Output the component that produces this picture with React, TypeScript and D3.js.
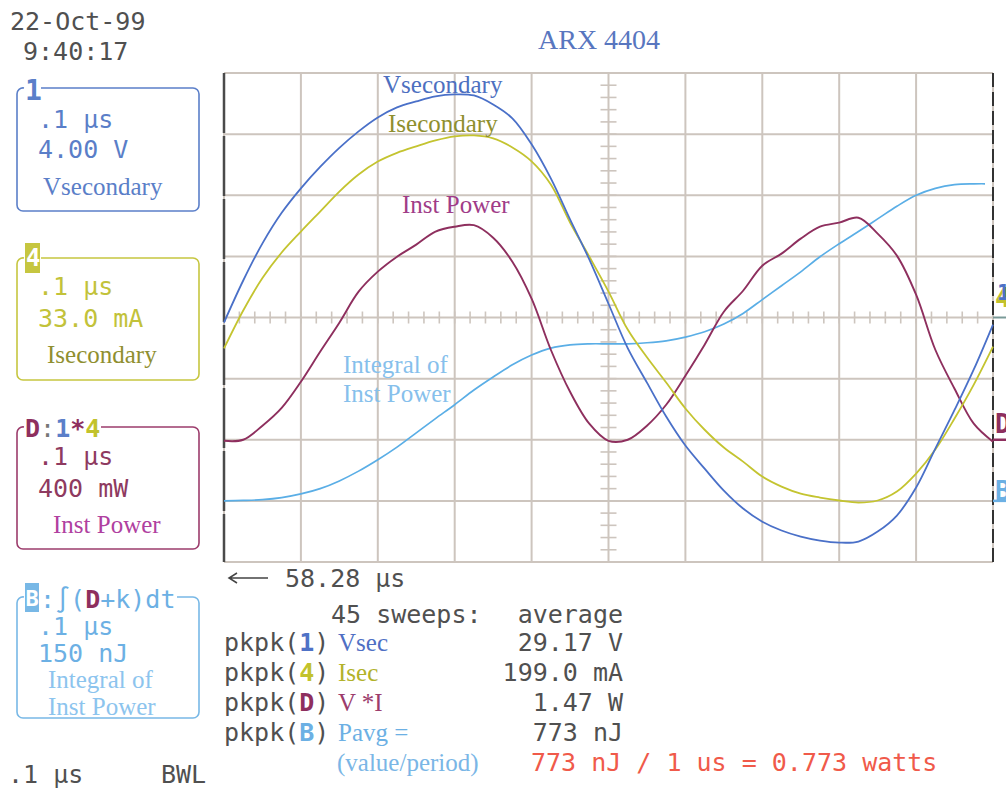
import React from "react";
import * as d3 from "d3";

// ---- data ----
const T_US = [0, 0.025, 0.05, 0.075, 0.1, 0.125, 0.15, 0.175, 0.2, 0.225, 0.25, 0.275, 0.3, 0.325, 0.35, 0.375, 0.4, 0.425, 0.45, 0.475, 0.5, 0.525, 0.55, 0.575, 0.6, 0.625, 0.65, 0.675, 0.7, 0.725, 0.75, 0.775, 0.8, 0.825, 0.85, 0.875, 0.9, 0.925, 0.95, 0.975, 1.0];
const VSEC_V = [-0.33, 2.42, 4.85, 6.85, 8.45, 9.85, 11.1, 12.18, 13.09, 13.75, 14.14, 14.47, 14.6, 14.53, 13.94, 13.03, 11.33, 9.1, 6.42, 3.8, 0.9, -2.0, -4.26, -6.48, -8.38, -9.89, -11.33, -12.5, -13.36, -13.94, -14.34, -14.6, -14.73, -14.66, -14.01, -12.96, -11.13, -8.58, -6.05, -3.4, -0.46];
const ISEC_MA = [-16.7, 3.8, 21.3, 35.1, 46.4, 57.2, 68.0, 77.2, 84.2, 88.9, 92.4, 95.6, 97.8, 98.3, 96.7, 91.8, 84.3, 71.8, 51.3, 32.9, 14.0, -6.5, -21.5, -35.1, -49.1, -60.6, -70.2, -77.8, -85.9, -91.3, -95.1, -97.2, -98.8, -99.9, -98.8, -94.0, -84.3, -71.3, -54.5, -36.2, -15.7];
const POWER_MW = [-7, 0, 92, 209, 380, 576, 766, 969, 1100, 1198, 1277, 1362, 1394, 1404, 1322, 1165, 923, 589, 314, 105, -7, 0, 92, 229, 419, 622, 838, 975, 1139, 1218, 1316, 1394, 1421, 1453, 1349, 1205, 949, 589, 334, 105, -13];
const INTEGRAL_NJ = [0, 1, 3, 8, 17, 30, 49, 73, 101, 132, 167, 202, 236, 272, 304, 334, 358, 375, 383, 385.4, 385.4, 385.4, 388, 392.8, 402, 415, 434, 460, 494, 528, 562, 599, 631, 661, 692, 723, 750, 767, 776, 778, 778];

// channel settings: units per division, ground offset (divisions)
const CH_VSEC = { perDiv: 4, offset: 0 };
const CH_ISEC = { perDiv: 33, offset: 0 };
const CH_POWER = { perDiv: 400, offset: -2 };
const CH_INTEG = { perDiv: 150, offset: -3 };

const X_DIVS = [0, 1, 2, 3, 4, 5, 6, 7, 8, 9, 10];
const Y_DIVS = [-4, -3, -2, -1, 0, 1, 2, 3, 4];

const MEASURES = [
  { ch: "1", chColor: "#4f72c6", label: "Vsec", labelColor: "#4f6fc4", value: "29.17 V" },
  { ch: "4", chColor: "#c2c22c", label: "Isec", labelColor: "#b2b22a", value: "199.0 mA" },
  { ch: "D", chColor: "#8e2f5e", label: "V *I", labelColor: "#9c3c6c", value: "1.47 W" },
  { ch: "B", chColor: "#6cb0e4", label: "Pavg =", labelColor: "#6cb0e4", value: "773 nJ" },
];

// ---- layout ----
const W = 1006, H = 790;
const L = 224, R = 993, TOP = 73, BOT = 562;
const MONO = "'DejaVu Sans Mono', monospace";
const SERIF = "'Liberation Serif', serif";
const GRID = "#cdc5be";
const TXT = "#505050";

const xT = d3.scaleLinear().domain([0, 1]).range([L, R]);
const xDiv = d3.scaleLinear().domain([0, 10]).range([L, R]);
const yDiv = d3.scaleLinear().domain([-4, 4]).range([BOT, TOP]);
const chScale = (c: { perDiv: number; offset: number }) =>
  d3.scaleLinear().domain([(-4 - c.offset) * c.perDiv, (4 - c.offset) * c.perDiv]).range([BOT, TOP]);

function tracePath(vals: number[], c: { perDiv: number; offset: number }) {
  const y = chScale(c);
  const line = d3
    .line<number>()
    .x((_, i) => xT(T_US[i]))
    .y((v) => y(v))
    .curve(d3.curveCatmullRom.alpha(0.5));
  return line(vals) || "";
}

function boxPath(x0: number, y0: number, x1: number, y1: number, r: number, g0: number, g1: number) {
  return `M${g1},${y0} H${x1 - r} A${r},${r} 0 0 1 ${x1},${y0 + r} V${y1 - r} A${r},${r} 0 0 1 ${x1 - r},${y1} H${x0 + r} A${r},${r} 0 0 1 ${x0},${y1 - r} V${y0 + r} A${r},${r} 0 0 1 ${g0},${y0}`;
}

export default function App() {
  const hTicks = d3.range(0, 50).map((i) => xDiv(i / 5)).filter((x) => x > L + 1 && x < R - 1);
  const vTicks = d3.range(-20, 21).map((i) => yDiv(i / 5)).filter((y) => y > TOP + 1 && y < BOT - 1);
  const mono = { fontFamily: MONO, fontSize: 25 };
  const serif = { fontFamily: SERIF, fontSize: 25 };
  return (
    <svg width={W} height={H} style={{ position: "absolute", left: 0, top: 0, background: "#fff" }}>
      <defs>
        <clipPath id="integClip">
          <rect x={L} y={TOP - 5} width={985 - L} height={BOT - TOP + 10} />
        </clipPath>
      </defs>
      {/* date/time */}
      <text x={10} y={30} {...mono} fill={TXT}>22-Oct-99</text>
      <text x={23} y={60} {...mono} fill={TXT}>9:40:17</text>
      <text x={538} y={49} fontFamily={SERIF} fontSize={28} fill="#5876bf">ARX 4404</text>

      {/* grid */}
      {X_DIVS.map((d) => (
        <line key={"gx" + d} x1={xDiv(d)} x2={xDiv(d)} y1={TOP} y2={BOT} stroke={GRID} strokeWidth={2} />
      ))}
      {Y_DIVS.map((d) => (
        <line key={"gy" + d} x1={L} x2={R} y1={yDiv(d)} y2={yDiv(d)} stroke={GRID} strokeWidth={2} />
      ))}
      {hTicks.map((x, i) => (
        <line key={"ht" + i} x1={x} x2={x} y1={yDiv(0) - 6} y2={yDiv(0) + 6} stroke={GRID} strokeWidth={1.6} />
      ))}
      {vTicks.map((y, i) => (
        <line key={"vt" + i} x1={xDiv(5) - 8} x2={xDiv(5) + 8} y1={y} y2={y} stroke={GRID} strokeWidth={1.6} />
      ))}
      <line x1={L} x2={L} y1={TOP} y2={BOT} stroke="#4a4a4a" strokeWidth={2.5} strokeDasharray="60 3" />
      <line x1={R} x2={R} y1={TOP} y2={BOT} stroke="#333" strokeWidth={2} strokeDasharray="14 5" />

      {/* traces */}
      <path d={tracePath(INTEGRAL_NJ, CH_INTEG)} fill="none" stroke="#5aaee6" strokeWidth={1.7} clipPath="url(#integClip)" />
      <path d={tracePath(POWER_MW, CH_POWER)} fill="none" stroke="#8e2f5e" strokeWidth={1.9} />
      <path d={tracePath(ISEC_MA, CH_ISEC)} fill="none" stroke="#c4c430" strokeWidth={1.8} />
      <path d={tracePath(VSEC_V, CH_VSEC)} fill="none" stroke="#4a70c8" strokeWidth={1.8} />

      {/* trace labels */}
      <text x={383} y={93} {...serif} fill="#4d6fc0">Vsecondary</text>
      <text x={388} y={132} {...serif} fill="#8f8f2e">Isecondary</text>
      <text x={402} y={213} {...serif} fill="#a03c88">Inst Power</text>
      <text x={343} y={373} {...serif} fill="#86c0ec">Integral of</text>
      <text x={343} y={402} {...serif} fill="#86c0ec">Inst Power</text>

      {/* right ground markers */}
      <text x={995} y={307} fontFamily={MONO} fontSize={26} fontWeight="bold" fill="#c2c22c">4</text>
      <text x={997} y={300} fontFamily={MONO} fontSize={22} fontWeight="bold" fill="#4f72c6">1</text>
      <line x1={R} x2={W} y1={yDiv(0)} y2={yDiv(0)} stroke="#7a9a98" strokeWidth={2} />
      <text x={995} y={433} fontFamily={MONO} fontSize={26} fontWeight="bold" fill="#8e2f5e">D</text>
      <line x1={R} x2={W} y1={yDiv(-2)} y2={yDiv(-2)} stroke="#8e2f5e" strokeWidth={2.5} />
      <text x={995} y={500} fontFamily={MONO} fontSize={26} fontWeight="bold" fill="#6cb0e4">B</text>
      <line x1={R} x2={W} y1={yDiv(-3)} y2={yDiv(-3)} stroke="#6cb0e4" strokeWidth={2.5} />

      {/* channel box 1 */}
      <path d={boxPath(17, 88, 199, 211, 6, 24, 41)} fill="none" stroke="#5b7fc9" strokeWidth={1.6} />
      <text x={25} y={100} fontFamily={MONO} fontSize={28} fontWeight="bold" fill="#5b7fc9">1</text>
      <text x={38} y={128} {...mono} fill="#5a7ec8">.1 μs</text>
      <text x={38} y={158} {...mono} fill="#5a7ec8">4.00 V</text>
      <text x={43} y={195} {...serif} fill="#5a7ec8">Vsecondary</text>

      {/* channel box 4 */}
      <path d={boxPath(17, 258, 199, 380, 6, 24, 41)} fill="none" stroke="#c6c640" strokeWidth={1.6} />
      <rect x={25} y={243} width={15} height={30} fill="#c6c640" />
      <text x={26} y={266} fontFamily={MONO} fontSize={24} fontWeight="bold" fill="#fff">4</text>
      <text x={38} y={295} {...mono} fill="#c2c23a">.1 μs</text>
      <text x={38} y={327} {...mono} fill="#c2c23a">33.0 mA</text>
      <text x={47} y={363} {...serif} fill="#8f8f30">Isecondary</text>

      {/* channel box D */}
      <path d={boxPath(17, 427, 199, 549, 6, 24, 101)} fill="none" stroke="#9c3c6c" strokeWidth={1.6} />
      <text x={25} y={437} fontFamily={MONO} fontSize={25} fontWeight="bold">
        <tspan fill="#8e2f5e">D</tspan>
        <tspan fill="#777" fontWeight="normal">:</tspan>
        <tspan fill="#5b7fc9">1</tspan>
        <tspan fill="#8e2f5e">*</tspan>
        <tspan fill="#c2c22c">4</tspan>
      </text>
      <text x={38} y={465} {...mono} fill="#8e3a60">.1 μs</text>
      <text x={38} y={497} {...mono} fill="#8e3a60">400 mW</text>
      <text x={53} y={533} {...serif} fill="#b040a0">Inst Power</text>

      {/* channel box B */}
      <path d={boxPath(17, 597, 199, 718, 6, 24, 177)} fill="none" stroke="#78b8e6" strokeWidth={1.6} />
      <rect x={25} y={583} width={14} height={29} fill="#78b8e6" />
      <text x={25.5} y={606} fontFamily={MONO} fontSize={22} fontWeight="bold" fill="#fff">B</text>
      <text x={40} y={608} fontFamily={MONO} fontSize={25}>
        <tspan fill="#6cb0e4">:∫(</tspan>
        <tspan fill="#8e2f5e" fontWeight="bold">D</tspan>
        <tspan fill="#6cb0e4">+k)dt</tspan>
      </text>
      <text x={38} y={635} {...mono} fill="#6cb0e4">.1 μs</text>
      <text x={38} y={662} {...mono} fill="#6cb0e4">150 nJ</text>
      <text x={48} y={688} {...serif} fill="#8cc4ee">Integral of</text>
      <text x={48} y={715} {...serif} fill="#8cc4ee">Inst Power</text>

      {/* bottom left */}
      <text x={8} y={783} {...mono} fill={TXT}>.1 μs</text>
      <text x={161} y={783} {...mono} fill={TXT}>BWL</text>

      {/* bottom measurements */}
      <path d="M268,578 H229 M237,573 L229,578 L237,583" fill="none" stroke="#444" strokeWidth={1.5} />
      <text x={285} y={587} {...mono} fill={TXT}>58.28 μs</text>
      <text x={331} y={623} {...mono} fill={TXT}>45 sweeps:</text>
      <text x={623} y={623} {...mono} fill={TXT} textAnchor="end">average</text>
      {MEASURES.map((m, i) => {
        const yb = 651 + i * 30;
        return (
          <g key={m.ch}>
            <text x={224} y={yb} {...mono} fill={TXT}>
              pkpk(<tspan fill={m.chColor} fontWeight="bold">{m.ch}</tspan>)
            </text>
            <text x={338} y={yb} {...serif} fill={m.labelColor}>{m.label}</text>
            <text x={623} y={yb} {...mono} fill={TXT} textAnchor="end">{m.value}</text>
          </g>
        );
      })}
      <text x={337} y={771} {...serif} fill="#7ab6e6">(value/period)</text>
      <text x={531} y={771} {...mono} fill="#f05a4a">773 nJ / 1 us = 0.773 watts</text>
    </svg>
  );
}
